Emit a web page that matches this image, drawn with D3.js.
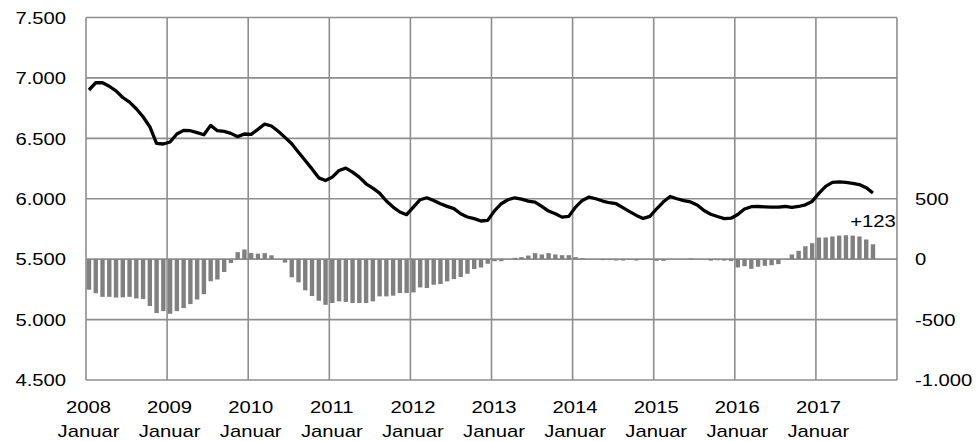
<!DOCTYPE html>
<html>
<head>
<meta charset="utf-8">
<script src="https://cdn.jsdelivr.net/npm/d3@7"></script>
<style>
  html, body { margin: 0; padding: 0; background: #fff; }
  svg { display: block; }
  text { font-family: "Liberation Sans", Arial, sans-serif; font-size: 17px; fill: #000; }
</style>
</head>
<body>
<svg id="chart" width="976" height="441"></svg>
<script>
// ---- data ----
const years = [2008, 2009, 2010, 2011, 2012, 2013, 2014, 2015, 2016, 2017];
const xMonthLabel = "Januar";
const leftTicks = [4500, 5000, 5500, 6000, 6500, 7000, 7500];
const rightTicks = [-1000, -500, 0, 500];
// monthly level (left axis), Jan 2008 .. Sep 2017
const level = [
  6900, 6960, 6960, 6931, 6893, 6838, 6800, 6745, 6679, 6596, 6459, 6453,
  6470, 6536, 6566, 6563, 6547, 6530, 6607, 6563, 6558, 6541, 6514, 6536,
  6533, 6574, 6618, 6602, 6558, 6508, 6455, 6385, 6316, 6247, 6173, 6151,
  6179, 6234, 6253, 6220, 6179, 6124, 6088, 6047, 5981, 5931, 5890, 5868,
  5931, 5992, 6008, 5986, 5959, 5937, 5918, 5876, 5849, 5835, 5816, 5821,
  5900, 5959, 5992, 6008, 5997, 5981, 5972, 5937, 5898, 5876, 5848, 5854,
  5931, 5986, 6014, 6000, 5981, 5967, 5959, 5926, 5893, 5862, 5837, 5854,
  5917, 5975, 6019, 6000, 5985, 5974, 5948, 5903, 5872, 5853, 5836, 5839,
  5870, 5915, 5934, 5936, 5933, 5931, 5931, 5936, 5928, 5936, 5950, 5978,
  6044, 6103, 6136, 6139, 6136, 6128, 6117, 6092, 6047
];
// year-over-year change (right axis)
const change = [
  -253, -282, -312, -312, -318, -316, -312, -325, -330, -388, -446, -430,
  -452, -430, -405, -372, -334, -290, -183, -168, -106, -32, 58, 80,
  52, 46, 50, 32, 0, -28, -150, -192, -258, -305, -344, -378,
  -363, -349, -354, -363, -363, -363, -349, -308, -308, -302, -280, -280,
  -275, -234, -239, -212, -206, -184, -165, -148, -121, -82, -69, -38,
  -17, -17, 0, 11, 17, 30, 50, 39, 50, 39, 33, 33,
  17, 8, 0, 0, -8, -8, -11, -11, -6, -11, 0, 0,
  -14, -14, 0, 0, 0, 6, 0, 0, -12, -9, -12, -15,
  -69, -58, -80, -63, -55, -50, -41, 0, 39, 69, 107, 132,
  179, 180, 188, 195, 198, 195, 188, 163, 123
];
const lastLabel = "+123";

// ---- layout ----
const svg = d3.select("#chart");
const L = 86, R = 897, T = 17.5, B = 380;
const SX = 1.19; // horizontal text stretch
const x = d3.scaleLinear().domain([0, 120]).range([L, R]);
const y = d3.scaleLinear().domain([4500, 7500]).range([B, T]);
const yR = d3.scaleLinear().domain([-1000, 2000]).range([B, T]);
const slot = x(1) - x(0);
const cx = i => x(i) + slot * 0.44;

function txt(g, s, px, py, anchor) {
  g.append("text")
    .attr("transform", `translate(${px},${py}) scale(${SX},1)`)
    .attr("text-anchor", anchor)
    .text(s);
}

const grid = svg.append("g").attr("stroke", "#8e8e8e").attr("stroke-width", 1.6);
leftTicks.forEach(v => {
  grid.append("line").attr("x1", L).attr("x2", R).attr("y1", y(v)).attr("y2", y(v));
});
d3.range(0, 11).forEach(k => {
  grid.append("line").attr("x1", x(k * 12)).attr("x2", x(k * 12)).attr("y1", T).attr("y2", B);
});

// bars
svg.append("g").selectAll("rect").data(change).join("rect")
  .attr("x", (d, i) => x(i) + 0.8)
  .attr("width", 4.4)
  .attr("y", d => yR(Math.max(0, d)))
  .attr("height", d => Math.abs(yR(d) - yR(0)))
  .attr("fill", "#808080");

// line
svg.append("path")
  .datum(level)
  .attr("fill", "none")
  .attr("stroke", "#000")
  .attr("stroke-width", 3.3)
  .attr("stroke-linejoin", "round")
  .attr("d", d3.line().x((d, i) => cx(i)).y(d => y(d)));

// axes labels
const fmt = v => d3.format(",")(v).replace(/,/g, ".").replace(/\u2212/g, "-");
const ax = svg.append("g");
leftTicks.forEach(v => txt(ax, fmt(v), 66, y(v) + 6.3, "end"));
rightTicks.forEach(v => txt(ax, fmt(v), 915, yR(v) + 6.3, "start"));
years.forEach((yr, k) => {
  txt(ax, String(yr), x(k * 12) + 2.5, 412.7, "middle");
  txt(ax, xMonthLabel, x(k * 12) + 2.5, 436.5, "middle");
});

// last value label
const li = change.length - 1;
txt(svg, lastLabel, cx(li), yR(change[li]) - 17, "middle");
</script>
</body>
</html>
